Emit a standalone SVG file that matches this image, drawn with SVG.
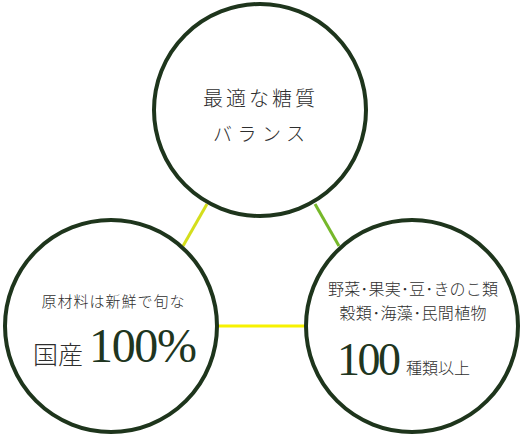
<svg xmlns="http://www.w3.org/2000/svg" width="523" height="436" viewBox="0 0 523 436">
<style>
.c{fill:#fff;stroke:#1e351c;stroke-width:4}
.jp{font-family:"Noto Sans CJK JP","Noto Sans CJK SC",sans-serif;fill:#2e2e2e;font-weight:300}
.num{font-family:"Liberation Serif",serif;fill:#203520}
</style>
<rect width="523" height="436" fill="#fff"/>
<g id="connectors">
<line x1="207" y1="204" x2="183" y2="246" stroke="#d4de1c" stroke-width="3"/>
<line x1="315" y1="204" x2="339" y2="246" stroke="#76b82a" stroke-width="3"/>
<line x1="218" y1="326" x2="304" y2="326" stroke="#f7f200" stroke-width="3"/>
</g>
<g id="node-top">
<circle class="c" cx="260" cy="110" r="106"/>
<text class="jp" x="259" y="106" font-size="20" text-anchor="middle" textLength="112">最適な糖質</text>
<text class="jp" x="259" y="141" font-size="19" text-anchor="middle" textLength="92">バランス</text>
</g>
<g id="node-left">
<circle class="c" cx="111" cy="326" r="106"/>
<text class="jp" x="113" y="307" font-size="15" text-anchor="middle" textLength="143">原材料は新鮮で旬な</text>
<text class="jp" x="33" y="364" font-size="25" textLength="50">国産</text>
<text class="num" x="89" y="362" font-size="48" textLength="108">100%</text>
</g>
<g id="node-right">
<circle class="c" cx="412" cy="326" r="106"/>
<text class="jp" x="413" y="295" font-size="16" text-anchor="middle" textLength="170">野菜･果実･豆･きのこ類</text>
<text class="jp" x="413" y="319" font-size="16" text-anchor="middle" textLength="147">穀類･海藻･民間植物</text>
<text class="num" x="337" y="375" font-size="46" textLength="64">100</text>
<text class="jp" x="406" y="374" font-size="16" textLength="64">種類以上</text>
</g>
</svg>
